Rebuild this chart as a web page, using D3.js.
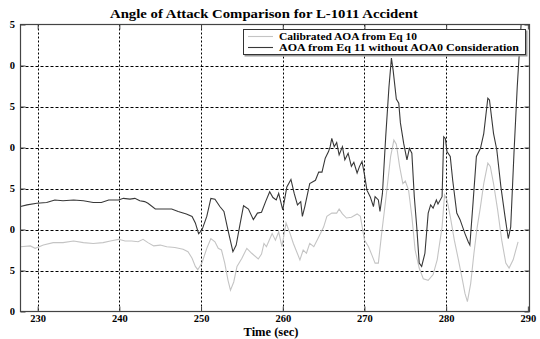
<!DOCTYPE html>
<html>
<head>
<meta charset="utf-8">
<script src="https://cdn.jsdelivr.net/npm/d3@7"></script>
<style>
  html, body { margin: 0; padding: 0; background: #fff; }
  svg { display: block; font-family: "Liberation Serif", "Times New Roman", serif; font-weight: bold; }
</style>
</head>
<body>
<svg id="chart" width="540" height="339"></svg>
<script>
// Time samples (sec) and angle of attack (deg) for each series
const timeCalibrated = [227.9,229.1,229.7,230.7,231.9,233.1,234.4,235.6,236.8,238.0,238.9,239.9,240.7,241.5,242.3,242.9,243.5,244.2,245.0,245.8,246.8,247.8,248.4,248.9,249.3,249.6,250.1,250.7,251.2,251.7,252.1,252.5,252.9,253.3,253.6,254.0,254.4,255.0,255.6,256.2,257.0,257.4,257.7,258.0,258.7,259.1,259.5,259.9,260.4,260.9,261.3,262.1,262.5,262.9,263.3,263.8,264.4,265.0,265.4,266.0,266.6,266.9,267.3,267.8,268.4,269.1,269.5,270.0,270.5,270.9,271.3,271.7,272.1,272.6,273.2,273.6,273.9,274.3,274.7,275.0,275.4,275.8,276.2,276.7,277.2,277.8,278.4,278.9,279.5,279.8,280.1,280.5,281.0,281.5,282.0,282.3,282.6,283.0,283.4,283.8,284.2,284.6,285.1,285.4,285.8,286.3,286.8,287.3,287.7,288.2,288.8];
const aoaCalibrated = [7.9,8.0,7.7,8.1,8.4,8.4,8.6,8.4,8.3,8.4,8.6,8.8,8.6,8.6,8.5,8.8,8.4,8.0,8.1,7.9,7.8,7.6,7.3,6.5,5.5,5.1,5.9,7.7,8.9,8.5,7.7,7.5,5.9,3.8,2.6,3.6,5.5,6.5,7.7,7.1,6.4,7.0,8.3,7.9,9.5,8.7,9.7,7.9,10.8,9.5,8.3,6.3,7.5,7.1,8.3,7.9,9.1,10.3,11.6,12.0,12.0,12.5,11.9,11.4,11.5,11.9,11.6,8.7,7.9,6.9,5.9,5.9,9.5,13.6,18.9,20.9,20.4,17.7,15.6,15.9,14.8,11.6,7.5,5.3,4.0,3.8,4.5,6.3,10.3,14.2,13.6,11.6,8.7,6.3,3.8,2.2,1.2,3.4,7.1,10.3,12.8,15.6,18.1,17.7,15.6,12.4,8.7,5.9,5.3,6.3,8.5];

const timeEq11 = [227.9,228.7,229.9,231.1,232.1,233.1,234.4,235.6,236.8,237.8,238.7,239.9,240.5,241.3,241.9,242.5,243.1,243.5,244.4,245.4,246.4,247.2,248.2,248.9,249.3,249.7,250.1,250.7,251.2,251.7,252.3,252.8,253.3,253.9,254.3,254.8,255.2,255.8,256.4,256.9,257.4,257.9,258.4,258.8,259.2,259.5,260.0,260.5,261.0,261.4,261.8,262.2,262.4,262.7,263.3,264.0,264.4,264.8,265.2,265.6,265.8,266.0,266.3,266.6,266.9,267.3,267.6,268.0,268.4,268.7,269.1,269.4,269.7,270.0,270.3,270.7,271.1,271.3,271.7,271.9,272.2,272.6,273.0,273.3,273.5,273.9,274.2,274.4,274.8,275.2,275.5,275.8,276.1,276.4,276.7,277.0,277.4,277.8,278.1,278.4,278.8,279.0,279.5,279.7,279.9,280.1,280.5,280.8,281.3,281.7,282.3,282.7,282.9,283.3,283.7,284.2,284.6,285.1,285.3,285.8,286.2,286.7,287.2,287.6,287.9,288.3,288.7,289.0,289.3];
const aoaEq11 = [12.8,13.0,13.2,13.3,13.6,13.5,13.6,13.5,13.3,13.3,13.6,13.6,13.8,13.7,13.8,13.5,13.4,13.2,12.5,12.5,12.5,12.2,11.9,11.6,10.8,9.5,9.9,11.6,13.8,13.7,12.8,12.2,9.9,7.3,8.1,10.8,12.9,12.5,11.2,12.0,12.1,13.4,14.6,13.9,13.6,14.4,12.4,15.2,16.1,14.4,13.0,13.4,11.6,12.8,15.6,16.0,17.0,17.0,18.7,19.5,20.1,21.1,20.1,20.6,19.1,20.1,18.5,19.3,17.7,18.2,16.9,17.7,18.3,16.7,14.8,14.0,12.8,14.0,13.6,12.2,14.4,21.3,27.4,30.9,29.5,25.9,25.4,23.0,20.5,18.5,19.9,19.3,14.0,10.3,5.9,5.5,7.1,12.0,13.0,12.6,13.6,13.1,14.0,21.3,21.1,19.5,18.9,16.0,12.0,11.2,9.5,8.5,8.1,13.4,18.9,19.9,21.7,26.0,25.8,21.7,19.7,15.2,11.6,8.9,10.3,19.3,27.4,32.3,37.0];

const xTicks = [230, 240, 250, 260, 270, 280, 290];
const yTicks = [0, 5, 10, 15, 20, 25, 30, 35];

const seriesNames = ["Calibrated AOA from Eq 10", "AOA from Eq 11 without AOA0 Consideration"];
const seriesColors = ["#c4c4c4", "#383838"];

const svg = d3.select("#chart");
const plot = { left: 20.5, right: 529.5, top: 24.5, bottom: 311.5 };

const x = d3.scaleLinear().domain([227.9, 290.2]).range([plot.left, plot.right]);
const y = d3.scaleLinear().domain([0, 35]).range([plot.bottom, plot.top]);

const defs = svg.append("defs");
defs.append("clipPath").attr("id", "plotClip")
  .append("rect")
  .attr("x", plot.left).attr("y", plot.top)
  .attr("width", plot.right - plot.left).attr("height", plot.bottom - plot.top);
// the page edge cuts the leading digit of the y labels
defs.append("clipPath").attr("id", "yLabelClip")
  .append("rect").attr("x", 9.8).attr("y", 0).attr("width", 30).attr("height", 339);

// Title
svg.append("text")
  .attr("x", 264).attr("y", 18)
  .attr("text-anchor", "middle")
  .attr("font-size", 13.5)
  .attr("textLength", 308).attr("lengthAdjust", "spacingAndGlyphs")
  .text("Angle of Attack Comparison for L-1011 Accident");

// Grid lines
const grid = svg.append("g").attr("class", "grid");
grid.selectAll("line.v")
  .data(xTicks.filter(t => t < 290))
  .join("line")
  .attr("class", "v")
  .attr("x1", d => Math.round(x(d)) + 0.5).attr("x2", d => Math.round(x(d)) + 0.5)
  .attr("y1", plot.top).attr("y2", plot.bottom)
  .attr("stroke", "#000").attr("stroke-width", 1)
  .attr("stroke-dasharray", "2,2");
grid.selectAll("line.h")
  .data(yTicks.filter(t => t > 0 && t < 35))
  .join("line")
  .attr("class", "h")
  .attr("x1", plot.left).attr("x2", plot.right)
  .attr("y1", d => Math.round(y(d)) + 0.5).attr("y2", d => Math.round(y(d)) + 0.5)
  .attr("stroke", "#000").attr("stroke-width", 1)
  .attr("stroke-dasharray", "3,2");

// Data lines
const line = d3.line().x(d => x(d[0])).y(d => y(d[1])).curve(d3.curveLinear);
const calibrated = timeCalibrated.map((t, i) => [t, aoaCalibrated[i]]);
const eq11 = timeEq11.map((t, i) => [t, aoaEq11[i]]);

const lines = svg.append("g").attr("clip-path", "url(#plotClip)");
lines.append("path").datum(calibrated)
  .attr("d", line).attr("fill", "none")
  .attr("stroke", seriesColors[0]).attr("stroke-width", 1.1);
lines.append("path").datum(eq11)
  .attr("d", line).attr("fill", "none")
  .attr("stroke", seriesColors[1]).attr("stroke-width", 1.1);

// Axes box with inward ticks on every side
const axisColor = "#444";
svg.append("rect")
  .attr("x", plot.left).attr("y", plot.top)
  .attr("width", plot.right - plot.left).attr("height", plot.bottom - plot.top)
  .attr("fill", "none").attr("stroke", axisColor).attr("stroke-width", 1.2);

const xAxisBottom = d3.axisBottom(x).tickValues(xTicks).tickSize(-5).tickPadding(6).tickFormat(d3.format("d"));
const xAxisTop = d3.axisTop(x).tickValues(xTicks).tickSize(-5).tickFormat("");
const yAxisLeft = d3.axisLeft(y).tickValues(yTicks).tickSize(-5).tickPadding(6).tickFormat(d3.format("d"));
const yAxisRight = d3.axisRight(y).tickValues(yTicks).tickSize(-5).tickFormat("");

const gxb = svg.append("g").attr("transform", `translate(0,${plot.bottom})`).call(xAxisBottom);
const gxt = svg.append("g").attr("transform", `translate(0,${plot.top})`).call(xAxisTop);
const yWrap = svg.append("g").attr("clip-path", "url(#yLabelClip)");
const gyl = yWrap.append("g").attr("transform", `translate(${plot.left},0)`).call(yAxisLeft);
const gyr = svg.append("g").attr("transform", `translate(${plot.right},0)`).call(yAxisRight);

[gxb, gxt, gyl, gyr].forEach(g => {
  g.select(".domain").remove();
  g.selectAll(".tick line").attr("stroke", axisColor);
  g.selectAll("text")
    .attr("fill", "#000")
    .attr("font-family", "'Liberation Serif', 'Times New Roman', serif")
    .attr("font-weight", "bold")
    .attr("font-size", 10.5);
});
gxb.selectAll(".tick text").attr("dy", "0.45em");
gyl.selectAll(".tick text").attr("x", -5.5).attr("dy", "0.3em");

// X axis label
svg.append("text")
  .attr("x", 271).attr("y", 336)
  .attr("text-anchor", "middle")
  .attr("font-size", 12.5)
  .text("Time (sec)");

// Legend
const legend = svg.append("g");
legend.append("rect")
  .attr("x", 244.5).attr("y", 30.5).attr("width", 283).attr("height", 26)
  .attr("fill", "#999").attr("stroke", "none");
legend.append("rect")
  .attr("x", 243.5).attr("y", 29.5).attr("width", 282).attr("height", 25)
  .attr("fill", "#fff").attr("stroke", "#333").attr("stroke-width", 1);

const rowY = [36.5, 47.5];
seriesNames.forEach((name, i) => {
  legend.append("line")
    .attr("x1", 248).attr("x2", 273)
    .attr("y1", rowY[i]).attr("y2", rowY[i])
    .attr("stroke", seriesColors[i]).attr("stroke-width", 1.1);
  const txt = legend.append("text")
    .attr("x", 279).attr("y", rowY[i] + 3.8)
    .attr("font-size", 11)
    .text(name);
  if (i === 1) txt.attr("textLength", 240).attr("lengthAdjust", "spacingAndGlyphs");
  else txt.attr("textLength", 138).attr("lengthAdjust", "spacingAndGlyphs");
});
</script>
</body>
</html>
